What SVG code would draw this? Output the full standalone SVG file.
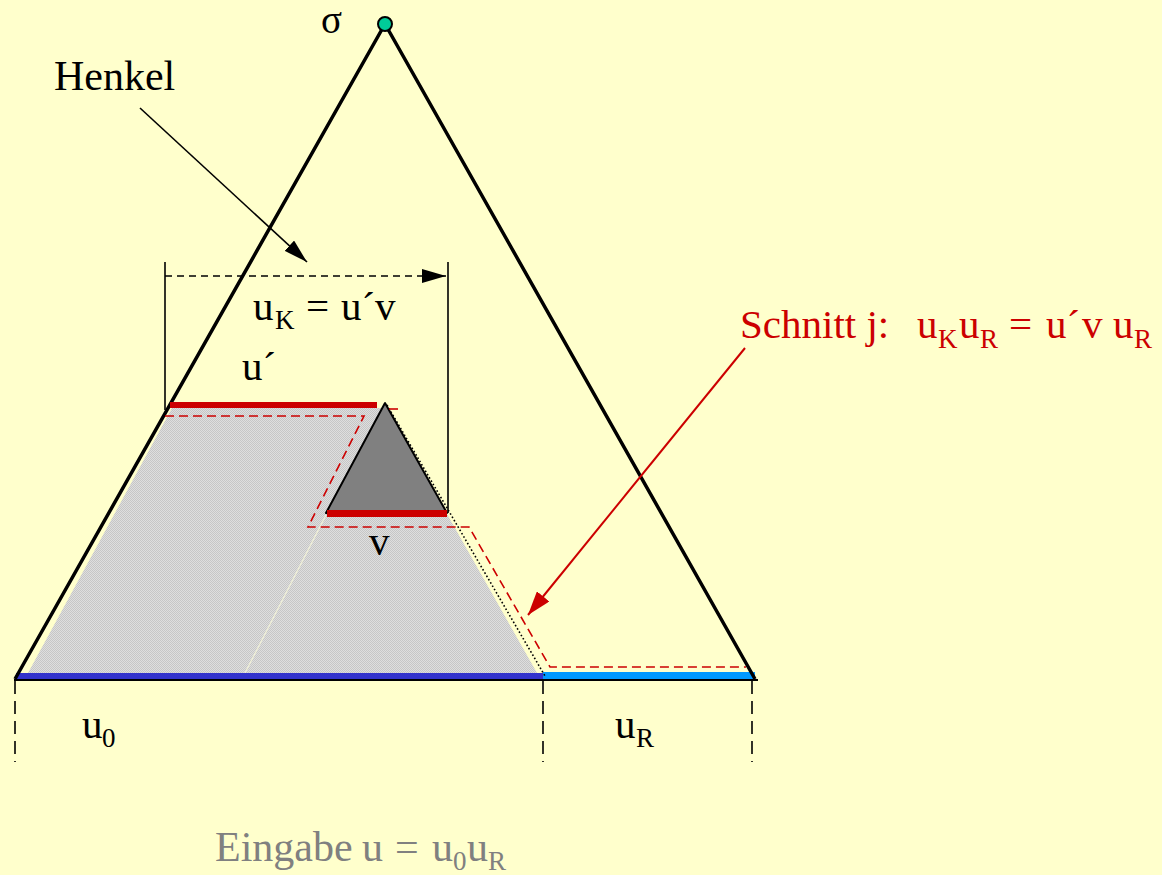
<svg xmlns="http://www.w3.org/2000/svg" width="1162" height="875" viewBox="0 0 1162 875">
<style>
text{font-family:"Liberation Serif","Times New Roman",serif;font-size:41px;fill:#000}
.sub{font-size:27px}
.red{fill:#CC0000}
.grey{fill:#808080}
.tri{fill:none;stroke:#000;stroke-width:3.5;stroke-linejoin:miter}
.thin{stroke:#000;stroke-width:1.6;fill:none}
.rdash{stroke:#CC0000;stroke-width:1.6;fill:none;stroke-dasharray:9,5}
.vdash{stroke:#000;stroke-width:1.6;fill:none;stroke-dasharray:13,7}
</style>
<defs>
<pattern id="dither" width="2" height="2" patternUnits="userSpaceOnUse">
<rect width="2" height="2" fill="#DEDEDE"/>
<rect width="1" height="1" fill="#C6C6C6"/>
<rect x="1" y="1" width="1" height="1" fill="#C6C6C6"/>
</pattern>
<marker id="ahBlack" markerUnits="userSpaceOnUse" markerWidth="24" markerHeight="14" viewBox="0 0 24 14" refX="24" refY="7" orient="auto">
<path d="M0,0 L24,7 L0,14 Z" fill="#000"/>
</marker>
<marker id="ahRed" markerUnits="userSpaceOnUse" markerWidth="24" markerHeight="16" viewBox="0 0 24 16" refX="24" refY="8" orient="auto">
<path d="M0,0 L24,8 L0,16 Z" fill="#CC0000"/>
</marker>
</defs>
<rect width="1162" height="875" fill="#FFFFCC"/>

<g id="shaded-region">
<path d="M172,408 L387,408 L537,673 L28,673 Z" fill="url(#dither)"/>
<line x1="326" y1="515" x2="245" y2="673" stroke="#F2F2D8" stroke-width="1.2"/>
</g>

<g id="input-bars">
<rect x="16" y="673" width="527" height="6" fill="#3333CC"/>
<rect x="543" y="672" width="212" height="7" fill="#0099FF"/>
<line x1="14" y1="680" x2="758" y2="680" stroke="#000" stroke-width="2"/>
</g>

<g id="big-triangle">
<polyline class="tri" points="15,679 385,24 755,679"/>
<circle cx="385" cy="24" r="7" fill="#00CC99" stroke="#000" stroke-width="2"/>
</g>

<g id="subtree-v">
<polygon points="385,403 326,513 447,513" fill="#808080" stroke="#000" stroke-width="2" stroke-linejoin="round"/>
<line x1="387" y1="405" x2="545" y2="676" stroke="#000" stroke-width="1.6" stroke-dasharray="1.6,2.2"/>
</g>

<g id="red-bars">
<rect x="170" y="402" width="207" height="6" fill="#CC0000"/>
<rect x="327" y="510" width="120" height="7" fill="#CC0000"/>
</g>

<g id="cut-line">
<path class="rdash" d="M165,416 L364,416 L308,527 L469,527 L550,667 L746,667"/>
<line class="rdash" x1="389" y1="409" x2="398" y2="409"/>
</g>

<g id="connectors">
<line class="thin" x1="165" y1="262" x2="165" y2="410"/>
<line class="thin" x1="448" y1="262" x2="448" y2="513"/>
<line class="thin" x1="165" y1="276" x2="446" y2="276" stroke-dasharray="7,5" marker-end="url(#ahBlack)"/>
<line class="thin" x1="140" y1="108" x2="307" y2="262" marker-end="url(#ahBlack)"/>
<line x1="745" y1="348" x2="528" y2="615" stroke="#CC0000" stroke-width="2" marker-end="url(#ahRed)"/>
<line class="vdash" x1="15" y1="681" x2="15" y2="762"/>
<line class="vdash" x1="543" y1="681" x2="543" y2="762"/>
<line class="vdash" x1="752" y1="681" x2="752" y2="762"/>
</g>

<g id="labels">
<text x="321" y="33" style="font-size:39px">σ</text>
<text x="54" y="90" style="font-size:42px">Henkel</text>
<text x="253" y="320">u<tspan class="sub" x="275" dy="9">K</tspan><tspan x="306" dy="-9">=</tspan><tspan x="341">u´</tspan><tspan x="375">v</tspan></text>
<text x="242" y="380">u´</text>
<text x="369" y="555">v</text>
<text x="82" y="738">u<tspan class="sub" x="102" dy="9">0</tspan></text>
<text x="615" y="738">u<tspan class="sub" x="636" dy="9">R</tspan></text>
<text class="red" x="740" y="338">Schnitt j:</text>
<text class="red" x="917" y="338">u<tspan class="sub" x="938" dy="10">K</tspan><tspan x="959" dy="-10">u</tspan><tspan class="sub" x="980" dy="10">R</tspan><tspan x="1009" dy="-10">=</tspan><tspan x="1046">u´</tspan><tspan x="1082">v</tspan><tspan x="1113">u</tspan><tspan class="sub" x="1134" dy="10">R</tspan></text>
<text class="grey" x="215" y="861" style="font-size:42px">Eingabe<tspan x="362">u</tspan><tspan x="395">=</tspan><tspan x="432">u</tspan><tspan class="sub" x="453" dy="9">0</tspan><tspan x="467" dy="-9">u</tspan><tspan class="sub" x="488" dy="9">R</tspan></text>
</g>
</svg>
